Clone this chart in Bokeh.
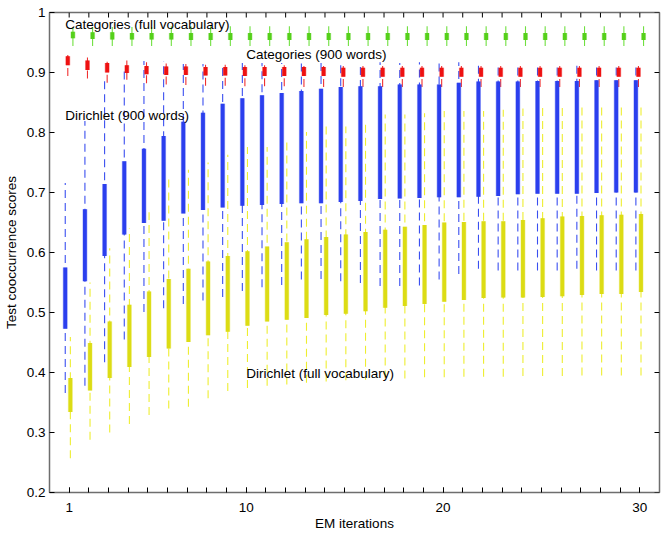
import math
from bokeh.plotting import figure
from bokeh.models import ColumnDataSource, Range1d, FixedTicker, Label
from bokeh.transform import dodge
from bokeh.embed import file_html
from bokeh.resources import INLINE

iterations = list(range(1, 31))

# Dirichlet (900 words)
blue_whi = [0.716, 0.819, 0.886, 0.902, 0.919, 0.919, 0.914, 0.914, 0.916, 0.916,
            0.916, 0.916, 0.917, 0.916, 0.917, 0.916, 0.917, 0.916, 0.917, 0.916,
            0.917, 0.914, 0.914, 0.914, 0.914, 0.914, 0.914, 0.914, 0.914, 0.914]
blue_q3 = [0.575, 0.672, 0.714, 0.752, 0.773, 0.794, 0.818, 0.833, 0.848, 0.857,
           0.862, 0.866, 0.869, 0.873, 0.876, 0.877, 0.877, 0.880, 0.880, 0.880,
           0.883, 0.885, 0.885, 0.885, 0.886, 0.886, 0.886, 0.887, 0.887, 0.887]
blue_q1 = [0.473, 0.552, 0.594, 0.630, 0.649, 0.653, 0.665, 0.671, 0.675, 0.678,
           0.679, 0.681, 0.682, 0.682, 0.684, 0.686, 0.689, 0.690, 0.691, 0.692,
           0.692, 0.693, 0.694, 0.697, 0.698, 0.698, 0.698, 0.699, 0.700, 0.700]
blue_wlo = [0.366, 0.378, 0.417, 0.455, 0.501, 0.507, 0.514, 0.520, 0.526, 0.536,
            0.542, 0.546, 0.555, 0.556, 0.552, 0.549, 0.544, 0.544, 0.545, 0.555,
            0.564, 0.573, 0.570, 0.570, 0.570, 0.570, 0.573, 0.570, 0.570, 0.570]

# Dirichlet (full vocabulary)
yel_whi = [0.459, 0.550, 0.607, 0.640, 0.667, 0.722, 0.738, 0.750, 0.763, 0.776,
           0.776, 0.789, 0.801, 0.810, 0.810, 0.819, 0.830, 0.830, 0.832, 0.836,
           0.836, 0.836, 0.838, 0.840, 0.841, 0.843, 0.843, 0.844, 0.844, 0.845]
yel_q3 = [0.391, 0.449, 0.485, 0.513, 0.535, 0.556, 0.573, 0.585, 0.594, 0.602,
          0.610, 0.617, 0.622, 0.626, 0.630, 0.634, 0.638, 0.643, 0.646, 0.650,
          0.651, 0.652, 0.652, 0.654, 0.657, 0.660, 0.661, 0.662, 0.663, 0.664]
yel_q1 = [0.334, 0.370, 0.391, 0.409, 0.426, 0.440, 0.451, 0.462, 0.468, 0.478,
          0.485, 0.488, 0.491, 0.496, 0.498, 0.502, 0.508, 0.511, 0.514, 0.518,
          0.521, 0.524, 0.525, 0.525, 0.526, 0.527, 0.529, 0.531, 0.531, 0.534]
yel_wlo = [0.257, 0.288, 0.300, 0.314, 0.329, 0.340, 0.343, 0.357, 0.369, 0.374,
           0.378, 0.380, 0.383, 0.385, 0.387, 0.388, 0.390, 0.390, 0.392, 0.392,
           0.393, 0.393, 0.393, 0.394, 0.394, 0.394, 0.395, 0.395, 0.395, 0.395]

# Categories (900 words)
red_whi = [0.936, 0.930, 0.923, 0.920, 0.920, 0.919, 0.919, 0.919, 0.919, 0.919,
           0.918, 0.918, 0.918, 0.918, 0.918, 0.918, 0.918, 0.918, 0.918, 0.918,
           0.918, 0.918, 0.918, 0.918, 0.918, 0.918, 0.918, 0.918, 0.918, 0.918]
red_q3 = [0.927, 0.920, 0.916, 0.912, 0.911, 0.910, 0.910, 0.909, 0.909, 0.909,
          0.909, 0.909, 0.909, 0.909, 0.908, 0.908, 0.908, 0.908, 0.908, 0.908,
          0.908, 0.908, 0.908, 0.908, 0.908, 0.908, 0.908, 0.908, 0.908, 0.908]
red_q1 = [0.912, 0.904, 0.900, 0.899, 0.897, 0.896, 0.896, 0.895, 0.895, 0.894,
          0.894, 0.894, 0.894, 0.894, 0.893, 0.893, 0.893, 0.893, 0.893, 0.893,
          0.893, 0.893, 0.893, 0.893, 0.893, 0.893, 0.893, 0.893, 0.893, 0.893]
red_wlo = [0.894, 0.890, 0.883, 0.888, 0.882, 0.880, 0.879, 0.878, 0.878, 0.877,
           0.877, 0.877, 0.876, 0.876, 0.876, 0.876, 0.876, 0.876, 0.876, 0.876,
           0.876, 0.876, 0.876, 0.876, 0.876, 0.876, 0.876, 0.876, 0.876, 0.876]

# Categories (full vocabulary)
grn_whi = [0.975, 0.976, 0.976, 0.976, 0.976, 0.977, 0.977, 0.977, 0.977, 0.977,
           0.977, 0.977, 0.977, 0.977, 0.977, 0.977, 0.977, 0.977, 0.977, 0.977,
           0.977, 0.977, 0.977, 0.977, 0.977, 0.977, 0.977, 0.977, 0.977, 0.977]
grn_q3 = [0.968, 0.967, 0.967, 0.966, 0.966, 0.966, 0.966, 0.966, 0.966, 0.966,
          0.966, 0.966, 0.966, 0.966, 0.966, 0.966, 0.966, 0.966, 0.966, 0.966,
          0.966, 0.966, 0.966, 0.966, 0.966, 0.966, 0.966, 0.966, 0.966, 0.966]
grn_q1 = [0.957, 0.956, 0.955, 0.955, 0.955, 0.955, 0.954, 0.954, 0.954, 0.954,
          0.954, 0.954, 0.954, 0.954, 0.954, 0.954, 0.954, 0.954, 0.954, 0.954,
          0.954, 0.954, 0.954, 0.954, 0.954, 0.954, 0.954, 0.954, 0.954, 0.954]
grn_wlo = [0.944, 0.944, 0.944, 0.944, 0.944, 0.944, 0.944, 0.944, 0.944, 0.944,
           0.944, 0.944, 0.944, 0.944, 0.944, 0.944, 0.944, 0.944, 0.944, 0.944,
           0.944, 0.944, 0.944, 0.944, 0.944, 0.944, 0.944, 0.944, 0.944, 0.944]

x_major_ticks = [1, 10, 20, 30]
y_ticks = [0.2, 0.3, 0.4, 0.5, 0.6, 0.7, 0.8, 0.9, 1.0]
y_tick_labels = ["0.2", "0.3", "0.4", "0.5", "0.6", "0.7", "0.8", "0.9", "1"]

series_labels = ["Categories (full vocabulary)", "Categories (900 words)",
                 "Dirichlet (900 words)", "Dirichlet (full vocabulary)"]

FONT = "Liberation Sans"
FS = "13.5px"
X0, X1, Y0, Y1 = 0, 31, 0.2, 1.0

p = figure(width=662, height=533, output_backend="svg", toolbar_location=None,
           x_range=Range1d(X0, X1), y_range=Range1d(Y0, Y1),
           min_border_left=40, min_border_right=3, min_border_top=12,
           min_border_bottom=30, background_fill_color="white",
           border_fill_color="white")
p.grid.visible = False
p.outline_line_color = "#6e6e6e"
p.outline_line_width = 1.5

for ax in (p.xaxis[0], p.yaxis[0]):
    ax.axis_line_color = None
    ax.major_tick_in = 5
    ax.major_tick_out = 0
    ax.minor_tick_in = 5
    ax.minor_tick_out = 0
    ax.major_tick_line_color = "black"
    ax.minor_tick_line_color = "black"
    ax.major_label_text_font = FONT
    ax.major_label_text_font_size = FS
    ax.major_label_text_color = "black"
    ax.axis_label_text_font = FONT
    ax.axis_label_text_font_size = FS
    ax.axis_label_text_font_style = "normal"
    ax.axis_label_text_color = "black"

p.xaxis.ticker = FixedTicker(ticks=x_major_ticks, minor_ticks=iterations)
p.yaxis.ticker = FixedTicker(ticks=y_ticks)
p.yaxis.major_label_overrides = dict(zip(y_ticks, y_tick_labels))
p.xaxis.axis_label = "EM iterations"
p.yaxis.axis_label = "Test cooccurrence scores"
p.xaxis.major_label_standoff = 10
p.xaxis.axis_label_standoff = 1
p.yaxis.major_label_standoff = 4
p.yaxis.axis_label_standoff = 5

# mirrored inward ticks on the top and right edges of the box
p.ray(x=iterations, y=[Y1] * len(iterations), length=5, length_units="screen",
      angle=-math.pi / 2, line_color="black", line_width=1)
p.ray(x=[X1] * len(y_ticks), y=y_ticks, length=5, length_units="screen",
      angle=math.pi, line_color="black", line_width=1)

series = [
    (blue_wlo, blue_q1, blue_q3, blue_whi, -0.2, "#2b3fee", "#3a4ff0"),
    (red_wlo, red_q1, red_q3, red_whi, -0.07, "#ee1111", "#f03030"),
    (yel_wlo, yel_q1, yel_q3, yel_whi, 0.06, "#dcdc14", "#eeee30"),
    (grn_wlo, grn_q1, grn_q3, grn_whi, 0.19, "#55d01a", "#70e040"),
]

sources = []
for wlo, q1, q3, whi, off, box_col, wh_col in series:
    src = ColumnDataSource(dict(it=iterations, wlo=wlo, q1=q1, q3=q3, whi=whi))
    sources.append(src)
    xs = dodge("it", off)
    p.segment(x0=xs, y0="wlo", x1=xs, y1="whi", source=src,
              line_color=wh_col, line_width=1.1, line_dash="8 5")
for src, (wlo, q1, q3, whi, off, box_col, wh_col) in zip(sources, series):
    xs = dodge("it", off)
    p.segment(x0=xs, y0="q1", x1=xs, y1="q3", source=src,
              line_color=box_col, line_width=5, line_alpha=0.35, line_cap="butt")
    p.segment(x0=xs, y0="q1", x1=xs, y1="q3", source=src,
              line_color=box_col, line_width=3.8, line_cap="butt")

label_pos = [(0.8, 0.980), (10.0, 0.930), (0.8, 0.829), (10.0, 0.398)]
for txt, (lx, ly) in zip(series_labels, label_pos):
    p.add_layout(Label(x=lx, y=ly, text=txt, text_font=FONT, text_font_size=FS,
                       text_baseline="middle", text_align="left",
                       text_color="black"))

open("out.html", "w").write(file_html(p, INLINE))
